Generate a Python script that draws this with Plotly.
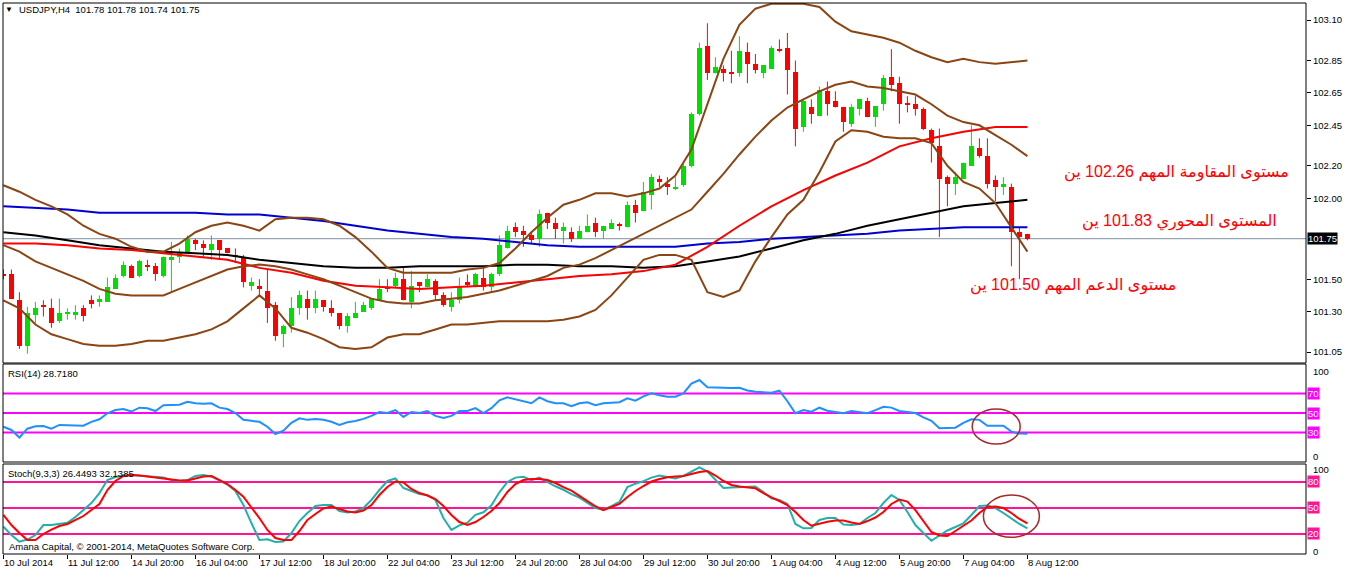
import plotly.graph_objects as go

# ---------------- data (USDJPY H4) ----------------
X_LABELS = ["10 Jul 2014", "11 Jul 12:00", "14 Jul 20:00", "16 Jul 04:00", "17 Jul 12:00",
            "18 Jul 20:00", "22 Jul 04:00", "23 Jul 12:00", "24 Jul 20:00", "28 Jul 04:00",
            "29 Jul 12:00", "30 Jul 20:00", "1 Aug 04:00", "4 Aug 12:00", "5 Aug 20:00",
            "7 Aug 04:00", "8 Aug 12:00"]

OPEN = [
    101.53, 101.53, 101.37, 101.09, 101.28, 101.34, 101.32, 101.24, 101.29, 101.28,
    101.32, 101.37, 101.36, 101.36, 101.44, 101.52, 101.58, 101.52, 101.59, 101.58,
    101.52, 101.62, 101.64, 101.66, 101.74, 101.72, 101.68, 101.74, 101.69, 101.65,
    101.64, 101.46, 101.46, 101.43, 101.34, 101.16, 101.21, 101.32, 101.38, 101.32,
    101.37, 101.32, 101.29, 101.21, 101.26, 101.30, 101.32, 101.37, 101.45, 101.46,
    101.50, 101.36, 101.48, 101.45, 101.49, 101.40, 101.33, 101.37, 101.48, 101.45,
    101.51, 101.45, 101.53, 101.69, 101.82, 101.80, 101.77, 101.75, 101.91, 101.85,
    101.80, 101.79, 101.75, 101.79, 101.85, 101.80, 101.81, 101.84, 101.82, 101.96,
    101.92, 102.02, 102.12, 102.09, 102.06, 102.08, 102.20, 102.52, 102.94, 102.77,
    102.80, 102.78, 102.77, 102.90, 102.83, 102.77, 102.80, 102.92, 102.93, 102.78,
    102.44, 102.56, 102.51, 102.66, 102.60, 102.56, 102.46, 102.55, 102.60, 102.50,
    102.58, 102.75, 102.71, 102.59, 102.58, 102.55, 102.42, 102.32, 102.13, 102.09,
    102.12, 102.20, 102.31, 102.26, 102.11, 102.07, 102.07, 101.79, 101.78]
HIGH = [
    101.56, 101.56, 101.42, 101.33, 101.36, 101.37, 101.38, 101.38, 101.32, 101.34,
    101.34, 101.40, 101.40, 101.51, 101.53, 101.61, 101.59, 101.62, 101.62, 101.60,
    101.64, 101.73, 101.69, 101.77, 101.75, 101.74, 101.77, 101.74, 101.69, 101.69,
    101.65, 101.51, 101.50, 101.56, 101.36, 101.22, 101.39, 101.43, 101.43, 101.43,
    101.37, 101.37, 101.29, 101.29, 101.36, 101.36, 101.38, 101.50, 101.50, 101.54,
    101.58, 101.55, 101.48, 101.53, 101.50, 101.42, 101.42, 101.51, 101.53, 101.54,
    101.57, 101.54, 101.77, 101.83, 101.85, 101.83, 101.79, 101.93, 101.91, 101.88,
    101.85, 101.82, 101.83, 101.90, 101.88, 101.83, 101.87, 101.85, 101.98, 101.99,
    102.10, 102.15, 102.14, 102.13, 102.13, 102.21, 102.53, 102.96, 103.08, 102.87,
    102.82, 102.91, 103.00, 102.96, 102.89, 102.82, 102.94, 102.98, 103.02, 102.85,
    102.61, 102.61, 102.69, 102.72, 102.66, 102.56, 102.58, 102.61, 102.62, 102.57,
    102.76, 102.92, 102.75, 102.63, 102.63, 102.56, 102.43, 102.43, 102.14, 102.16,
    102.22, 102.45, 102.37, 102.37, 102.14, 102.13, 102.09, 101.82, 101.78]
LOW = [
    101.50, 101.38, 101.07, 101.04, 101.23, 101.27, 101.20, 101.23, 101.25, 101.25,
    101.24, 101.32, 101.33, 101.36, 101.44, 101.51, 101.51, 101.51, 101.55, 101.49,
    101.51, 101.42, 101.60, 101.66, 101.68, 101.63, 101.62, 101.62, 101.66, 101.60,
    101.45, 101.43, 101.40, 101.23, 101.12, 101.08, 101.17, 101.28, 101.25, 101.29,
    101.30, 101.27, 101.19, 101.17, 101.26, 101.30, 101.31, 101.37, 101.42, 101.45,
    101.37, 101.32, 101.42, 101.45, 101.37, 101.33, 101.30, 101.35, 101.45, 101.45,
    101.43, 101.42, 101.52, 101.69, 101.76, 101.70, 101.72, 101.70, 101.81, 101.75,
    101.72, 101.73, 101.75, 101.79, 101.76, 101.75, 101.81, 101.80, 101.82, 101.85,
    101.92, 101.93, 102.07, 102.02, 102.05, 102.07, 102.19, 102.51, 102.73, 102.77,
    102.72, 102.71, 102.75, 102.71, 102.77, 102.74, 102.80, 102.90, 102.64, 102.32,
    102.41, 102.46, 102.51, 102.51, 102.56, 102.41, 102.44, 102.51, 102.50, 102.44,
    102.54, 102.66, 102.46, 102.53, 102.51, 102.42, 102.22, 101.76, 101.95, 102.02,
    102.12, 102.20, 102.25, 102.06, 101.98, 102.02, 101.58, 101.50, 101.74]
CLOSE = [
    101.52, 101.38, 101.09, 101.29, 101.32, 101.33, 101.23, 101.29, 101.30, 101.30,
    101.27, 101.35, 101.38, 101.45, 101.51, 101.59, 101.51, 101.61, 101.58, 101.53,
    101.64, 101.64, 101.66, 101.75, 101.72, 101.69, 101.72, 101.68, 101.66, 101.64,
    101.48, 101.48, 101.44, 101.32, 101.15, 101.21, 101.32, 101.40, 101.32, 101.38,
    101.33, 101.29, 101.21, 101.27, 101.29, 101.34, 101.38, 101.44, 101.44, 101.51,
    101.37, 101.46, 101.46, 101.50, 101.40, 101.34, 101.37, 101.46, 101.47, 101.53,
    101.45, 101.53, 101.71, 101.80, 101.79, 101.77, 101.74, 101.90, 101.85, 101.81,
    101.82, 101.75, 101.80, 101.83, 101.79, 101.83, 101.85, 101.83, 101.96, 101.91,
    102.04, 102.13, 102.10, 102.07, 102.07, 102.20, 102.52, 102.93, 102.77, 102.81,
    102.77, 102.77, 102.91, 102.83, 102.79, 102.82, 102.93, 102.91, 102.79, 102.43,
    102.60, 102.52, 102.67, 102.58, 102.56, 102.47, 102.56, 102.61, 102.50, 102.57,
    102.74, 102.70, 102.58, 102.58, 102.55, 102.43, 102.34, 102.12, 102.09, 102.13,
    102.22, 102.32, 102.26, 102.09, 102.07, 102.09, 101.79, 101.76, 101.75]

# Bollinger bands, sampled every 2 bars
BB_UPPER = [
    102.08, 102.04, 101.99, 101.95, 101.90, 101.83, 101.78, 101.75, 101.70, 101.67,
    101.67, 101.72, 101.79, 101.83, 101.85, 101.83, 101.80, 101.87, 101.88, 101.88,
    101.87, 101.83, 101.76, 101.67, 101.57, 101.54, 101.54, 101.54, 101.54, 101.56,
    101.57, 101.60, 101.69, 101.79, 101.88, 101.96, 101.99, 102.03, 102.03, 102.01,
    102.03, 102.06, 102.14, 102.30, 102.58, 102.86, 103.07, 103.17, 103.20, 103.20,
    103.20, 103.18, 103.09, 103.03, 103.01, 102.99, 102.96, 102.91, 102.87, 102.84,
    102.86, 102.84, 102.83, 102.84, 102.85]
BB_MID = [
    101.71, 101.67, 101.61, 101.57, 101.53, 101.49, 101.44, 101.41, 101.40, 101.40,
    101.40, 101.44, 101.48, 101.52, 101.56, 101.58, 101.59, 101.58, 101.56, 101.53,
    101.50, 101.46, 101.42, 101.38, 101.36, 101.35, 101.35, 101.37, 101.38, 101.39,
    101.41, 101.43, 101.46, 101.49, 101.52, 101.57, 101.59, 101.63, 101.68, 101.73,
    101.78, 101.83, 101.88, 101.93, 102.04, 102.15, 102.27, 102.38, 102.48, 102.56,
    102.61, 102.66, 102.70, 102.72, 102.69, 102.68, 102.66, 102.64, 102.58, 102.51,
    102.47, 102.45, 102.39, 102.33, 102.26]
BB_LOWER = [
    101.37, 101.32, 101.22, 101.16, 101.13, 101.10, 101.09, 101.09, 101.10, 101.12,
    101.12, 101.14, 101.16, 101.19, 101.24, 101.32, 101.40, 101.32, 101.20, 101.17,
    101.13, 101.08, 101.07, 101.08, 101.14, 101.16, 101.16, 101.19, 101.22, 101.22,
    101.23, 101.24, 101.24, 101.24, 101.24, 101.25, 101.27, 101.31, 101.40, 101.51,
    101.62, 101.65, 101.65, 101.62, 101.42, 101.39, 101.43, 101.61, 101.76, 101.90,
    101.99, 102.16, 102.35, 102.42, 102.41, 102.38, 102.37, 102.37, 102.34, 102.20,
    102.10, 102.06, 101.97, 101.82, 101.67]

# Moving averages, sampled every 4 bars
MA_RED = [101.72, 101.72, 101.71, 101.69, 101.68, 101.66, 101.64, 101.62, 101.57, 101.54,
          101.49, 101.46, 101.45, 101.44, 101.45, 101.46, 101.48, 101.50, 101.52, 101.53,
          101.55, 101.59, 101.70, 101.83, 101.95, 102.05, 102.14, 102.22, 102.32, 102.37,
          102.41, 102.44, 102.44]
MA_BLACK = [101.79, 101.77, 101.74, 101.71, 101.69, 101.67, 101.66, 101.65, 101.62, 101.60,
            101.58, 101.57, 101.57, 101.58, 101.58, 101.58, 101.59, 101.59, 101.58, 101.58,
            101.57, 101.58, 101.61, 101.64, 101.69, 101.74, 101.78, 101.83, 101.87, 101.91,
            101.95, 101.97, 101.99]
MA_BLUE = [101.95, 101.94, 101.93, 101.91, 101.91, 101.91, 101.91, 101.90, 101.90, 101.88,
           101.86, 101.83, 101.80, 101.78, 101.76, 101.75, 101.73, 101.71, 101.70, 101.70,
           101.70, 101.70, 101.72, 101.73, 101.75, 101.76, 101.77, 101.78, 101.80, 101.81,
           101.82, 101.82, 101.82]

RSI = [
    36, 32.7, 25, 34, 36.5, 36.7, 34, 37.8, 37.5, 37,
    37, 41, 43.6, 49.7, 53.1, 54, 51.5, 55.4, 54.8, 52,
    58, 58.2, 58.5, 61.5, 60, 59.5, 59.9, 55.5, 54, 50,
    43, 42, 41, 36, 28.6, 31.9, 40, 44.6, 43, 43.9,
    43, 41.1, 37.8, 40.5, 41.8, 44, 47, 51, 50, 53,
    46, 51, 50, 52, 47, 45, 47, 52, 52, 55,
    50, 55, 63, 66, 64, 62, 60, 66, 62, 60,
    60, 57, 60, 61, 58, 60, 60.5, 61, 65, 62.6,
    67, 70, 68, 66.6, 66.6, 70, 80, 83.7, 76.2, 75.8,
    75.5, 75.6, 75.8, 73, 71.7, 71, 70.7, 72.8, 62, 49.7,
    53, 51.3, 55.4, 52.3, 51, 49.7, 52, 51, 49.7, 53,
    56.4, 55.5, 52, 51, 50, 45.5, 42, 34.4, 35, 35,
    40, 43.6, 43, 37, 37, 37, 31, 29, 28.718]

STOCH_K = [
    28.4, 18.8, 11.1, 13.6, 18.8, 30.3, 30.3, 31.5, 33, 39.6,
    47.6, 55.7, 67.2, 82.2, 85.7, 87.4, 88, 87.4, 86.9, 86,
    85.1, 82.2, 81.1, 82.2, 86.9, 88, 86.3, 81.7, 77, 69.6,
    53.4, 32.6, 13, 13.8, 10.7, 11.3, 21.1, 34.9, 44.2, 52.2,
    53.4, 53.4, 46.5, 44.8, 45.9, 49.9, 59.2, 70.7, 81.1, 84,
    73, 69.6, 66.1, 64.9, 59.2, 38.4, 24.6, 30, 33, 42,
    45, 53, 68, 80, 85, 86, 82, 85, 80, 75,
    71, 66, 62, 56, 50, 48, 52, 57, 74, 78,
    81, 85, 87.4, 85.7, 84, 86.9, 91.5, 96.7, 92, 82.2,
    73, 73.6, 74.2, 74.7, 74.7, 68.4, 61.1, 59.2, 54.6, 31.5,
    26.5, 26.9, 36.1, 38.4, 38.4, 30.9, 30.3, 31.5, 38.4, 44.2,
    55.7, 64.9, 59.2, 45.3, 30.3, 21.1, 12.2, 18.2, 24, 28,
    32.3, 41.9, 52.2, 52.8, 49.9, 44.2, 37.8, 31.5, 26.4493]
STOCH_D = [
    41.9, 30.3, 21.1, 13, 13, 20, 25.1, 29.2, 31.5, 36.1,
    40.7, 47.6, 54.6, 70.7, 81.1, 86.9, 88, 87.4, 86.3, 85.1,
    84, 82.8, 81.7, 81.7, 84, 86.3, 86.9, 82.2, 77.6, 70.7,
    63, 50.5, 38.4, 24.6, 15.3, 13, 13, 23.4, 36.1, 43,
    49.4, 51.7, 48.8, 45.9, 44.8, 47.1, 53.4, 64.9, 74.2, 80.5,
    79.4, 71.9, 67.2, 64.4, 60.3, 52.2, 41.9, 33.8, 30.3, 33.8,
    39.6, 46.5, 55.7, 68.4, 77.6, 82.2, 83.4, 83.4, 82.2, 78.8,
    74, 70, 64, 58, 52, 47.6, 51.1, 54.6, 62.6, 69.6,
    75.3, 80.5, 83.4, 85.4, 86.3, 86.9, 89.2, 91.5, 92.6, 87.4,
    81.1, 76.5, 74.7, 73.6, 72.7, 67.2, 62.1, 58, 53.4, 45.3,
    36.1, 29.5, 32.1, 34.1, 35.5, 35.5, 33.2, 31.5, 34.9, 39,
    45.3, 54.6, 59.7, 57.4, 47.6, 34.4, 22.3, 18.2, 17.6, 23.4,
    29.2, 35.5, 44.2, 51.1, 51.7, 49.9, 44.2, 37.3, 32.1385]

PRICE_TICKS = [103.10, 102.85, 102.65, 102.45, 102.20, 102.00, 101.50, 101.30, 101.05]
RSI_LEVELS = [70, 50, 30]
STOCH_LEVELS = [80, 50, 20]

N = len(CLOSE)
IDX = list(range(N))
BB_IDX = list(range(0, N, 2))
MA_IDX = list(range(0, N, 4))
XTICK_IDX = list(range(0, N, 8))

# ---------------- styling ----------------
FONT = "Liberation Sans, Arial, DejaVu Sans, sans-serif"
FS = 9.5
GREEN = "#00E000"
RED = "#FF0000"
BROWN = "#8B4513"
BLUE = "#0000D0"
MAGENTA = "#FF00FF"
PINK = "#FF1493"

fig = go.Figure()

# candle wicks
def wick_xy(bull):
    xs, ys = [], []
    for i in IDX:
        if (CLOSE[i] >= OPEN[i]) == bull:
            xs += [i, i, None]
            ys += [LOW[i], HIGH[i], None]
    return xs, ys

for bull, col in [(True, GREEN), (False, RED)]:
    wx, wy = wick_xy(bull)
    fig.add_trace(go.Scatter(x=wx, y=wy, mode="lines", line=dict(color=col, width=1),
                             xaxis="x", yaxis="y", hoverinfo="skip"))

# candle bodies
body_base = [min(o, c) for o, c in zip(OPEN, CLOSE)]
body_h = [max(abs(c - o), 0.006) for o, c in zip(OPEN, CLOSE)]
body_col = [GREEN if c >= o else RED for o, c in zip(OPEN, CLOSE)]
fig.add_trace(go.Bar(x=IDX, y=body_h, base=body_base, width=0.64,
                     marker=dict(color=body_col, line=dict(width=0)),
                     xaxis="x", yaxis="y", hoverinfo="skip"))

# indicator lines on price
for xs, ys, col in [(MA_IDX, MA_BLUE, BLUE), (MA_IDX, MA_BLACK, "#000000"),
                    (MA_IDX, MA_RED, RED), (BB_IDX, BB_UPPER, BROWN),
                    (BB_IDX, BB_MID, BROWN), (BB_IDX, BB_LOWER, BROWN)]:
    fig.add_trace(go.Scatter(x=xs, y=ys, mode="lines", line=dict(color=col, width=2),
                             xaxis="x", yaxis="y", hoverinfo="skip"))

# RSI
fig.add_trace(go.Scatter(x=IDX, y=RSI, mode="lines", line=dict(color="#1E90FF", width=2),
                         xaxis="x2", yaxis="y2", hoverinfo="skip"))
# Stochastic
fig.add_trace(go.Scatter(x=IDX, y=STOCH_K, mode="lines", line=dict(color="#20B2AA", width=2),
                         xaxis="x3", yaxis="y3", hoverinfo="skip"))
fig.add_trace(go.Scatter(x=IDX, y=STOCH_D, mode="lines", line=dict(color=RED, width=2),
                         xaxis="x3", yaxis="y3", hoverinfo="skip"))

# ---------------- layout ----------------
W, H = 1346, 571
ML, MR, MT, MB = 3, 40, 3, 17
PH = H - MT - MB
def py(pix):  # pixel row -> paper fraction
    return (H - MB - pix) / PH

D_MAIN = [py(363), 1.0]
D_RSI = [py(462), py(364)]
D_STO = [0.0, py(464)]

XR = [-0.05, -0.05 + (W - ML - MR) / 8.0]

axis_common = dict(showgrid=False, zeroline=False, fixedrange=True, automargin=False)

fig.update_layout(
    width=W, height=H,
    margin=dict(l=ML, r=MR, t=MT, b=MB, autoexpand=False),
    paper_bgcolor="white", plot_bgcolor="white",
    showlegend=False, barmode="overlay", bargap=0,
    font=dict(family=FONT, size=FS, color="black"),
    xaxis=dict(domain=[0, 1], range=XR, anchor="y", showticklabels=False, ticks="", **axis_common),
    xaxis2=dict(domain=[0, 1], range=XR, anchor="y2", matches="x", showticklabels=False, ticks="", **axis_common),
    xaxis3=dict(domain=[0, 1], range=XR, anchor="y3", matches="x",
                tickmode="array", tickvals=XTICK_IDX, ticktext=X_LABELS,
                ticks="outside", ticklen=4, tickcolor="black", tickwidth=1,
                ticklabelposition="outside right",
                tickfont=dict(family=FONT, size=FS, color="black"), **axis_common),
    yaxis=dict(domain=D_MAIN, range=[103.2235 - 363 / 162, 103.2235 - 3 / 162], anchor="x",
               side="right", tickmode="array", tickvals=PRICE_TICKS,
               ticktext=[f"{v:.2f}" for v in PRICE_TICKS],
               ticks="outside", ticklen=4, tickcolor="black",
               tickfont=dict(family=FONT, size=FS, color="black"), **axis_common),
    yaxis2=dict(domain=D_RSI, range=[0, 100], anchor="x2", showticklabels=False, ticks="", **axis_common),
    yaxis3=dict(domain=D_STO, range=[-3.1, 100.7], anchor="x3", showticklabels=False, ticks="", **axis_common),
)

shapes = []
# panel borders
for d in (D_MAIN, D_RSI, D_STO):
    shapes.append(dict(type="rect", xref="paper", yref="paper", x0=0, x1=1, y0=d[0], y1=d[1],
                       line=dict(color="black", width=1), fillcolor="rgba(0,0,0,0)", layer="above"))
# current price line
shapes.append(dict(type="line", xref="paper", yref="y", x0=0, x1=1, y0=CLOSE[-1], y1=CLOSE[-1],
                   line=dict(color="#8090A0", width=1), layer="below"))
# level lines
for v in RSI_LEVELS:
    shapes.append(dict(type="line", xref="paper", yref="y2", x0=0, x1=1, y0=v, y1=v,
                       line=dict(color=MAGENTA, width=2), layer="below"))
for v in STOCH_LEVELS:
    shapes.append(dict(type="line", xref="paper", yref="y3", x0=0, x1=1, y0=v, y1=v,
                       line=dict(color=PINK, width=2), layer="below"))
# highlight ellipses
shapes.append(dict(type="circle", xref="x2", yref="y2", x0=121.1, x1=127.1, y0=18.4, y1=54.1,
                   line=dict(color="#A52A2A", width=1.5)))
shapes.append(dict(type="circle", xref="x3", yref="y3", x0=122.5, x1=129.5, y0=16.1, y1=64.9,
                   line=dict(color="#A52A2A", width=1.5)))
fig.update_layout(shapes=shapes)

ann = []
def txt(text, x, y, xanchor="left", yanchor="middle", xref="paper", yref="paper", size=FS,
        color="black", bg=None, xshift=0, yshift=0):
    d = dict(text=text, x=x, y=y, xref=xref, yref=yref, xanchor=xanchor, yanchor=yanchor,
             showarrow=False, font=dict(family=FONT, size=size, color=color),
             xshift=xshift, yshift=yshift, borderpad=0)
    if bg:
        d["bgcolor"] = bg
    ann.append(d)

def pxx(pix):
    return (pix - ML) / (W - ML - MR)

txt("\u25BC", pxx(4), py(10), size=8)
txt("USDJPY,H4\u00a0\u00a0" + " ".join(f"{v:.2f}" for v in [OPEN[-1], HIGH[-1], LOW[-1], CLOSE[-1]]),
    pxx(18), py(10))
txt(f"RSI(14) {RSI[-1]:.4f}", pxx(7), py(373))
txt(f"Stoch(9,3,3) {STOCH_K[-1]:.4f} {STOCH_D[-1]:.4f}", pxx(7), py(473))
txt("Amana Capital, \u00a9 2001-2014, MetaQuotes Software Corp.", pxx(8), py(546))

# current price tag
txt(f"{CLOSE[-1]:.2f}", 1, CLOSE[-1], yref="y", color="white", bg="black", xshift=1)
# RSI / Stoch scale labels
txt("100", 1, 92, yref="y2", xshift=6)
txt("0", 1, 6, yref="y2", xshift=6)
for v in RSI_LEVELS:
    txt(str(v), 1, v, yref="y2", color="white", bg=MAGENTA, xshift=1)
txt("100", 1, 94, yref="y3", xshift=6)
txt("0", 1, 0, yref="y3", xshift=6)
for v in STOCH_LEVELS:
    txt(str(v), 1, v, yref="y3", color="white", bg=PINK, xshift=1)

# Arabic level notes
for text, xr, yr in [("مستوى المقاومة المهم 102.26 ين", 1290, 173),
                     ("المستوى المحوري 101.83 ين", 1278, 222),
                     ("مستوى الدعم المهم 101.50 ين", 1177, 285)]:
    txt(text, pxx(xr), py(yr), xanchor="right", size=16, color=RED)

fig.update_layout(annotations=ann)

fig.write_html("out.html", config={"displayModeBar": False},
               post_script="document.body.style.margin='0';document.body.style.overflow='hidden';")
